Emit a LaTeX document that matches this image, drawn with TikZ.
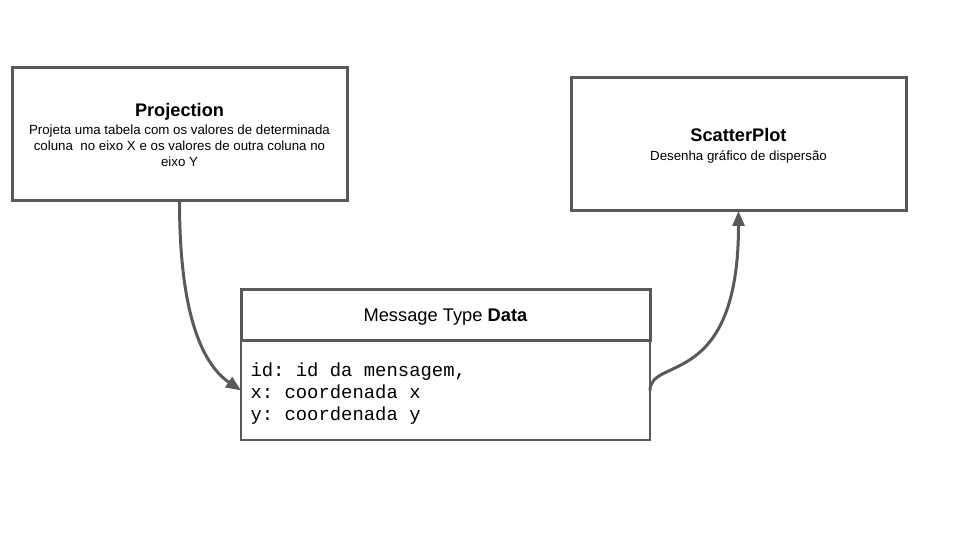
\documentclass[tikz,border=0pt]{standalone}
\usepackage{fontspec}
\setmainfont{Liberation Sans}
\setmonofont{Liberation Mono}
\usetikzlibrary{positioning,arrows.meta}
\definecolor{bordergray}{RGB}{89,89,89}
\tikzstyle{cbox}=[rectangle, draw=bordergray, line width=3pt, outer sep=0pt,
                  minimum width=335pt, minimum height=133pt, align=center,
                  font=\fontsize{13.3}{16}\selectfont]
\tikzstyle{hbox}=[rectangle, draw=bordergray, line width=3pt, outer sep=0pt,
                  minimum width=409pt, minimum height=51pt, text depth=0pt,
                  font=\fontsize{18.3}{22}\selectfont]
\tikzstyle{fbox}=[rectangle, draw=bordergray, line width=1.5pt, outer sep=0pt,
                  minimum width=409pt, minimum height=99pt, text width=390pt, text depth=42pt,
                  inner xsep=9.5pt, align=flush left, font=\ttfamily\fontsize{18.9}{22}\selectfont]
\tikzstyle{pline}=[-{Triangle[length=15pt,width=12pt]}, line width=3pt, draw=bordergray]
\newcommand{\boxtitle}[1]{{\bfseries\fontsize{18.2}{22}\selectfont #1}}

\begin{document}
\begin{tikzpicture}[x=1pt,y=1pt]
\useasboundingbox (0,0) rectangle (960,540);

\node (PROJ) [cbox, text depth=0pt] at (179.5,405.5) {\boxtitle{Projection}\\[2pt]
 Projeta uma tabela com os valores de determinada\\
 coluna\ \ no eixo X e os valores de outra coluna no\\
 eixo Y};

\node (SCAT) [cbox, text depth=-4pt] at (738.5,395.5) {\boxtitle{ScatterPlot}\\[3pt]
 Desenha gráfico de dispersão};

\node (MSGH) [hbox] at (445.5,224.5) {Message Type \textbf{Data}};
\node (MSGB) [fbox, below=0pt of MSGH] {id: id da mensagem,\\
 x: coordenada x\\
 y: coordenada y};

 \draw[pline] (PROJ.south) .. controls +(0,-120) and +(-36,24.5) .. (MSGB.west);
 \draw[pline] (MSGB.east) .. controls +(0,34.5) and +(0,-179) .. (SCAT.south);

\end{tikzpicture}
\end{document}
